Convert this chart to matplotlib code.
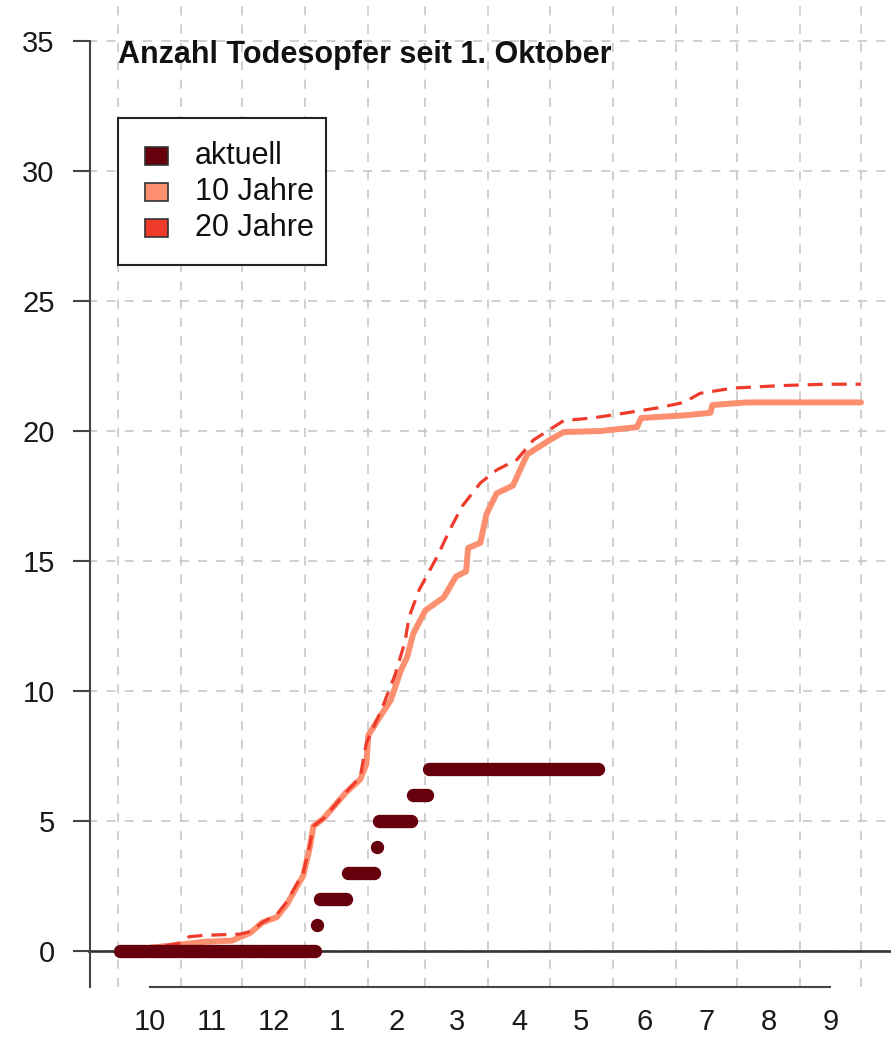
import numpy as np
import matplotlib
matplotlib.use("Agg")
import matplotlib.pyplot as plt
from matplotlib.patches import Rectangle

plt.rcParams['font.family'] = ['Liberation Sans', 'DejaVu Sans']

# ---------------- data ----------------
month_labels = ["10", "11", "12", "1", "2", "3", "4", "5", "6", "7", "8", "9"]
month_lengths = [31, 30, 31, 31, 28, 31, 30, 31, 31, 30, 31, 30]

# current season: day (since 1 Oct) of each death, and last reported day
death_days = [98, 99, 113, 127, 128, 145, 153]
first_day = 1
last_day = 236

# 10-year mean cumulative deaths
avg10_days = [0, 25, 42, 56, 65, 71, 78, 83, 88, 91, 94, 96, 101, 112, 119, 122, 123,
              127, 134, 139, 142, 145, 151, 160, 166, 171, 172, 178, 181, 186, 194,
              201, 212, 219, 237, 255, 257, 278, 291, 292, 309, 365]
avg10_vals = [0.0, 0.2, 0.35, 0.4, 0.7, 1.1, 1.3, 1.8, 2.5, 2.9, 3.9, 4.8, 5.1, 6.1, 6.6,
              7.2, 8.3, 8.8, 9.65, 10.8, 11.3, 12.2, 13.1, 13.6, 14.4, 14.6, 15.5, 15.7,
              16.8, 17.6, 17.9, 19.1, 19.65, 19.96, 20.0, 20.15, 20.5, 20.6, 20.7, 21.0,
              21.1, 21.1]

# 20-year mean cumulative deaths
avg20_days = [0, 23, 30, 35, 42, 60, 65, 71, 78, 83, 88, 91, 94, 96, 101, 112, 119, 122,
              129, 136, 141, 143, 148, 157, 163, 169, 178, 186, 196, 204, 211, 219, 233,
              250, 266, 278, 286, 302, 327, 348, 365]
avg20_vals = [0.0, 0.2, 0.3, 0.55, 0.6, 0.65, 0.75, 1.1, 1.4, 1.9, 2.6, 3.0, 4.0, 4.8,
              5.1, 6.1, 6.7, 8.0, 9.2, 10.6, 11.9, 12.85, 13.9, 15.2, 16.2, 17.1, 18.0,
              18.5, 18.9, 19.65, 20.0, 20.4, 20.5, 20.7, 20.9, 21.1, 21.45, 21.65, 21.75,
              21.8, 21.8]

legend_labels = ["aktuell", "10 Jahre", "20 Jahre"]
title_text = "Anzahl Todesopfer seit 1. Oktober"

# ---------------- styles ----------------
c_akt = "#67000D"
c_10 = "#FC8F6F"
c_20 = "#EF3B2C"
c_grid = "#C4C4C4"
c_axis = "#444444"
FS_TICK = 21
FS_TXT = 22

W, H = 894, 1057
fig = plt.figure(figsize=(W / 100, H / 100), dpi=100)

# axes geometry (pixel based)
px_per_day = 743 / 365.0
x0_px = 118.0
xlim = (-14.6, 379.6)
ax_left = x0_px + xlim[0] * px_per_day
ax_w = (xlim[1] - xlim[0]) * px_per_day
ylim = (-1.4, 36.4)
px_per_unit = 26.0
y0_px = 951.0
ax_bottom_px = y0_px - ylim[0] * px_per_unit
ax_top_px = y0_px - ylim[1] * px_per_unit
ax = fig.add_axes([ax_left / W, 1 - ax_bottom_px / H, ax_w / W,
                   (ax_bottom_px - ax_top_px) / H])
ax.set_xlim(*xlim)
ax.set_ylim(*ylim)

# grid
bounds = np.concatenate([[0], np.cumsum(month_lengths)])
for b in bounds:
    ax.axvline(b, color=c_grid, lw=1.1, linestyle=(0, (6, 6)), zorder=0)
for yv in range(0, 36, 5):
    ax.axhline(yv, color=c_grid, lw=1.1, linestyle=(0, (6, 6)), zorder=0)

# zero line
ax.axhline(0, color="#333333", lw=1.9, zorder=1)

# curves
ax.plot(avg10_days, avg10_vals, color=c_10, lw=4.3, solid_capstyle='round',
        solid_joinstyle='round', zorder=2)
ax.plot(avg20_days, avg20_vals, color=c_20, lw=2.3, linestyle=(0, (4.7, 2.8)), zorder=3)

# current season
days = np.arange(first_day, last_day + 1)
akt = np.array([sum(1 for dd in death_days if dd <= d) for d in days])
ax.plot(days, akt, linestyle='none', marker='o', ms=9.6, color=c_akt,
        markeredgewidth=0, zorder=4)

# axes / spines
for s in ["top", "right"]:
    ax.spines[s].set_visible(False)
ax.spines["left"].set_bounds(-1.4, 35)
ax.spines["left"].set_position(("outward", -1.5))
ax.spines["left"].set_color(c_axis)
ax.spines["left"].set_linewidth(1.5)
mids = bounds[:-1] + np.array(month_lengths) / 2.0
ax.spines["bottom"].set_bounds(mids[0], mids[-1])
ax.spines["bottom"].set_color(c_axis)
ax.spines["bottom"].set_linewidth(1.5)

ax.set_yticks(range(0, 36, 5))
ax.set_yticklabels([str(v) for v in range(0, 36, 5)], fontsize=FS_TICK, color="#1a1a1a")
ax.tick_params(axis='y', length=12.2, width=1.5, color=c_axis, pad=13.5)
ax.set_xticks(mids)
ax.set_xticklabels(month_labels, fontsize=FS_TICK, color="#1a1a1a")
ax.tick_params(axis='x', length=0, pad=14.5)

# title
ax.text(0, 34.45, title_text, fontsize=FS_TXT, fontweight='bold', ha='left', va='center',
        color="#111111", zorder=5)

# legend (manual, R style)
def fx(px):
    return px / W

def fy(py):
    return 1 - py / H

fig.patches.append(Rectangle((fx(118), fy(265)), fx(326) - fx(118), fy(118) - fy(265),
                             transform=fig.transFigure, facecolor='white',
                             edgecolor='#222222', lw=1.5, zorder=10))
row_y = [156, 192, 228]
for lab, col, ry in zip(legend_labels, [c_akt, c_10, c_20], row_y):
    fig.patches.append(Rectangle((fx(145), fy(ry + 9)), fx(168) - fx(145), fy(ry - 9) - fy(ry + 9),
                                 transform=fig.transFigure, facecolor=col,
                                 edgecolor='#333333', lw=1.2, zorder=11))
    fig.text(fx(195), fy(ry), lab, fontsize=FS_TXT, ha='left', va='center',
             color="#111111", zorder=12)

fig.savefig("out.png", dpi=100)
